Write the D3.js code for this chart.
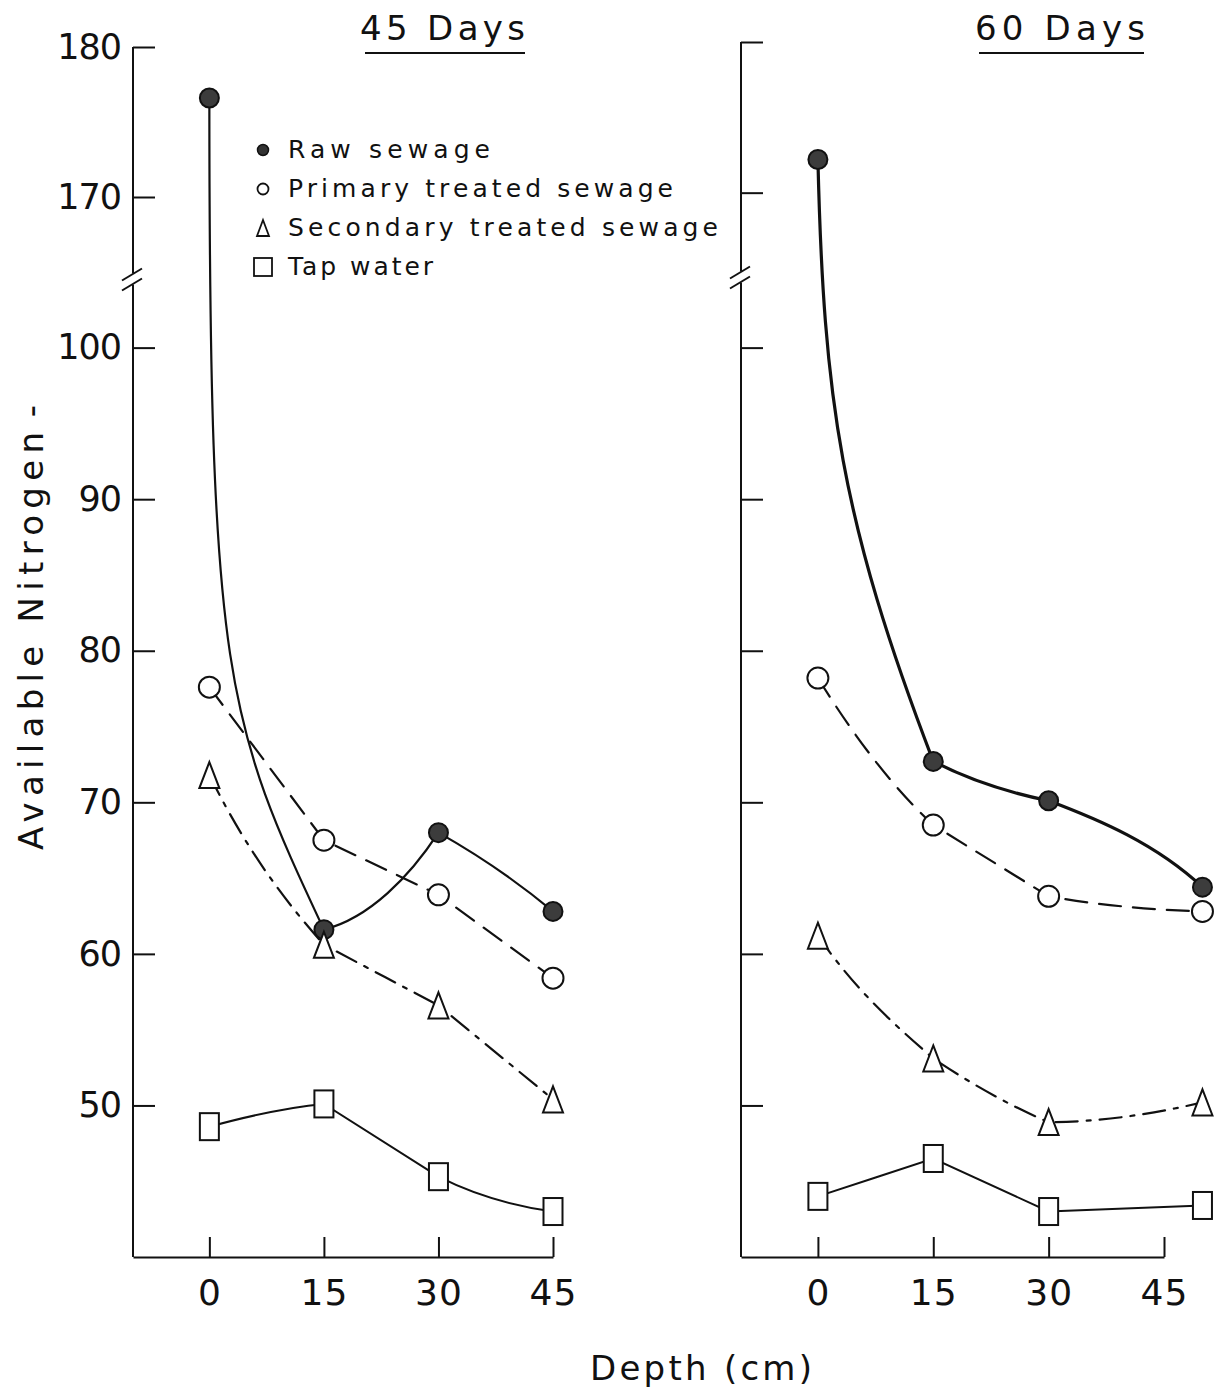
<!DOCTYPE html>
<html>
<head>
<meta charset="utf-8">
<script src="https://cdn.jsdelivr.net/npm/d3@7"></script>
<style>
  html, body { margin: 0; padding: 0; background: #fff; }
  svg { display: block; }
  text { font-family: "DejaVu Sans", "Liberation Sans", sans-serif; fill: #111; }
</style>
</head>
<body>
<svg id="chart" width="1223" height="1390"></svg>
<script>
// ---------- data ----------
const xTicks = [0, 15, 30, 45];
const yTicks = [50, 60, 70, 80, 90, 100, 170, 180];
const panelTitles = ["45 Days", "60 Days"];
const seriesNames = ["Raw sewage", "Primary treated sewage", "Secondary treated sewage", "Tap water"];

const depths45 = [0, 15, 30, 45];
const raw45 = [176.6, 61.6, 68.0, 62.8];
const primary45 = [77.6, 67.5, 63.9, 58.4];
const secondary45 = [71.8, 60.6, 56.6, 50.4];
const tap45 = [48.6, 50.1, 45.3, 43.0];

const depths60 = [0, 15, 30, 50];
const raw60 = [172.2, 72.7, 70.1, 64.4];
const primary60 = [78.2, 68.5, 63.8, 62.8];
const secondary60 = [61.2, 53.1, 48.9, 50.2];
const tap60 = [44.0, 46.5, 43.0, 43.4];

// ---------- styles / layout ----------
const svg = d3.select("#chart");
const INK = "#111";
const S = [1 / 3, 1 / 3, 1 / 3, 1 / 3]; // straight segment

const styles = [
  { marker: "dot",      dash: null,       width: 2.2 },
  { marker: "circle",   dash: "22,12",    width: 2.2 },
  { marker: "triangle", dash: "22,9,4,9", width: 2.2 },
  { marker: "square",   dash: null,       width: 2.0 }
];

// hand-drawn curve shape per segment: [a, b, c, d] ->
// C1 = P0 + (a*dx, b*dy), C2 = P1 - (c*dx, d*dy)
const panels = [
  {
    title: panelTitles[0], titleX: 360, titleLen: 165, ulX: [365, 525],
    xRange: [133, 553], yRange: [1257, 287, 272, 47], labels: true,
    depths: depths45, series: [raw45, primary45, secondary45, tap45], rawWidth: 2.2,
    shapes: [
      [[0, 0.7, 0.85, 0.25], [0.4, 0.12, 0.25, 0.45], [0.33, 0.27, 0.33, 0.4]],
      [S, S, S],
      [[0.33, 0.45, 0.33, 0.25], S, S],
      [[0.33, 0.45, 0.33, 0.15], S, [0.33, 0.55, 0.33, 0.15]]
    ]
  },
  {
    title: panelTitles[1], titleX: 975, titleLen: 170, ulX: [979, 1144],
    xRange: [741, 1164], yRange: [1257, 287, 268, 42], labels: false,
    depths: depths60, series: [raw60, primary60, secondary60, tap60], rawWidth: 3.2,
    shapes: [
      [[0.05, 0.4, 0.8, 0.4], [0.33, 0.5, 0.33, 0.2], [0.33, 0.22, 0.3, 0.5]],
      [[0.33, 0.42, 0.33, 0.24], S, [0.33, 0.6, 0.33, 0.1]],
      [[0.33, 0.45, 0.33, 0.27], [0.33, 0.4, 0.33, 0.25], [0.33, 0, 0.33, 0.6]],
      [S, S, S]
    ]
  }
];

function drawMarker(g, type, cx, cy) {
  if (type === "dot") {
    g.append("circle").attr("cx", cx).attr("cy", cy).attr("r", 9.5)
      .attr("fill", "#3c3c3c").attr("stroke", INK).attr("stroke-width", 2);
  } else if (type === "circle") {
    g.append("circle").attr("cx", cx).attr("cy", cy).attr("r", 10.5)
      .attr("fill", "#fff").attr("stroke", INK).attr("stroke-width", 2);
  } else if (type === "triangle") {
    const w = 20, h = 26;
    g.append("path")
      .attr("d", `M${cx},${cy - h / 2}L${cx + w / 2},${cy + h / 2}L${cx - w / 2},${cy + h / 2}Z`)
      .attr("fill", "#fff").attr("stroke", INK).attr("stroke-width", 2);
  } else {
    const w = 19, h = 27;
    g.append("rect").attr("x", cx - w / 2).attr("y", cy - h / 2)
      .attr("width", w).attr("height", h)
      .attr("fill", "#fff").attr("stroke", INK).attr("stroke-width", 2);
  }
}

function handPath(pts, shapes) {
  const p = d3.path();
  p.moveTo(pts[0][0], pts[0][1]);
  for (let i = 0; i < pts.length - 1; i++) {
    const [x0, y0] = pts[i], [x1, y1] = pts[i + 1];
    const dx = x1 - x0, dy = y1 - y0;
    const [a, b, c, d] = shapes[i] || S;
    p.bezierCurveTo(x0 + a * dx, y0 + b * dy, x1 - c * dx, y1 - d * dy, x1, y1);
  }
  return p.toString();
}

panels.forEach(p => {
  const x = d3.scaleLinear().domain([-10, 45]).range(p.xRange);
  const y = d3.scaleLinear().domain([40, 104, 165, 180]).range(p.yRange);
  const g = svg.append("g");

  // x axis
  const xAxis = d3.axisBottom(x).tickValues(xTicks).tickSize(-20).tickSizeOuter(0).tickPadding(22);
  const gx = g.append("g").attr("transform", `translate(0,${y(40)})`).call(xAxis);
  gx.selectAll("path, line").attr("stroke", INK).attr("stroke-width", 2);
  gx.selectAll("text").attr("font-size", 36).attr("fill", INK)
    .style("font-family", "'DejaVu Sans', sans-serif").attr("letter-spacing", 1);

  // y axis (ticks + labels), domain drawn manually with break
  const yAxis = d3.axisLeft(y).tickValues(yTicks).tickSize(-22).tickPadding(12)
    .tickFormat(p.labels ? d3.format("d") : () => "");
  const gy = g.append("g").attr("transform", `translate(${x(-10)},0)`).call(yAxis);
  gy.select(".domain").remove();
  gy.selectAll("line").attr("stroke", INK).attr("stroke-width", 2);
  gy.selectAll("text").attr("font-size", 35).attr("fill", INK)
    .style("font-family", "'DejaVu Sans', sans-serif").attr("letter-spacing", -1);

  const ax = x(-10);
  const yb = (y(104) + y(165)) / 2;
  g.append("line").attr("x1", ax).attr("x2", ax).attr("y1", y(180)).attr("y2", yb - 6)
    .attr("stroke", INK).attr("stroke-width", 2);
  g.append("line").attr("x1", ax).attr("x2", ax).attr("y1", yb + 5).attr("y2", y(40))
    .attr("stroke", INK).attr("stroke-width", 2);
  [-5, 5].forEach(o => {
    g.append("line")
      .attr("x1", ax - 11).attr("y1", yb + o + 6)
      .attr("x2", ax + 9).attr("y2", yb + o - 6)
      .attr("stroke", INK).attr("stroke-width", 2);
  });

  // title
  g.append("text").attr("x", p.titleX).attr("y", 40).attr("font-size", 34)
    .attr("textLength", p.titleLen).attr("lengthAdjust", "spacing").text(p.title);
  g.append("line").attr("x1", p.ulX[0]).attr("x2", p.ulX[1]).attr("y1", 53).attr("y2", 53)
    .attr("stroke", INK).attr("stroke-width", 2);

  // lines
  p.series.forEach((vals, i) => {
    const pts = vals.map((v, k) => [x(p.depths[k]), y(v)]);
    g.append("path").attr("d", handPath(pts, p.shapes[i])).attr("fill", "none")
      .attr("stroke", INK)
      .attr("stroke-width", i === 0 ? p.rawWidth : styles[i].width)
      .attr("stroke-dasharray", styles[i].dash)
      .attr("stroke-linecap", "round");
  });
  // markers
  p.series.forEach((vals, i) => {
    vals.forEach((v, k) => drawMarker(g, styles[i].marker, x(p.depths[k]), y(v)));
  });
});

// legend
const legend = svg.append("g");
const legendBase = [158, 197, 236, 275];
const legendLen = [202, 385, 430, 145];
seriesNames.forEach((name, i) => {
  const cy = legendBase[i] - 8;
  const cx = 263;
  if (i === 0) {
    legend.append("circle").attr("cx", cx).attr("cy", cy).attr("r", 5.5)
      .attr("fill", "#333").attr("stroke", INK).attr("stroke-width", 1.5);
  } else if (i === 1) {
    legend.append("circle").attr("cx", cx).attr("cy", cy).attr("r", 5.5)
      .attr("fill", "#fff").attr("stroke", INK).attr("stroke-width", 1.8);
  } else if (i === 2) {
    legend.append("path").attr("d", `M${cx},${cy - 8}L${cx + 6},${cy + 8}L${cx - 6},${cy + 8}Z`)
      .attr("fill", "#fff").attr("stroke", INK).attr("stroke-width", 1.8);
  } else {
    legend.append("rect").attr("x", cx - 9).attr("y", cy - 9).attr("width", 18).attr("height", 18)
      .attr("fill", "#fff").attr("stroke", INK).attr("stroke-width", 1.8);
  }
  legend.append("text").attr("x", 288).attr("y", legendBase[i]).attr("font-size", 25)
    .attr("textLength", legendLen[i]).attr("lengthAdjust", "spacing").text(name);
});

// axis titles
svg.append("text").attr("transform", "translate(43,641) rotate(-90)")
  .attr("text-anchor", "middle").attr("font-size", 34)
  .attr("textLength", 418).attr("lengthAdjust", "spacing").text("Available Nitrogen");
svg.append("text").attr("transform", "translate(43,411) rotate(-90)")
  .attr("text-anchor", "middle").attr("font-size", 34).text("-");
svg.append("text").attr("x", 590).attr("y", 1380).attr("font-size", 34)
  .attr("textLength", 222).attr("lengthAdjust", "spacing").text("Depth (cm)");
</script>
</body>
</html>
